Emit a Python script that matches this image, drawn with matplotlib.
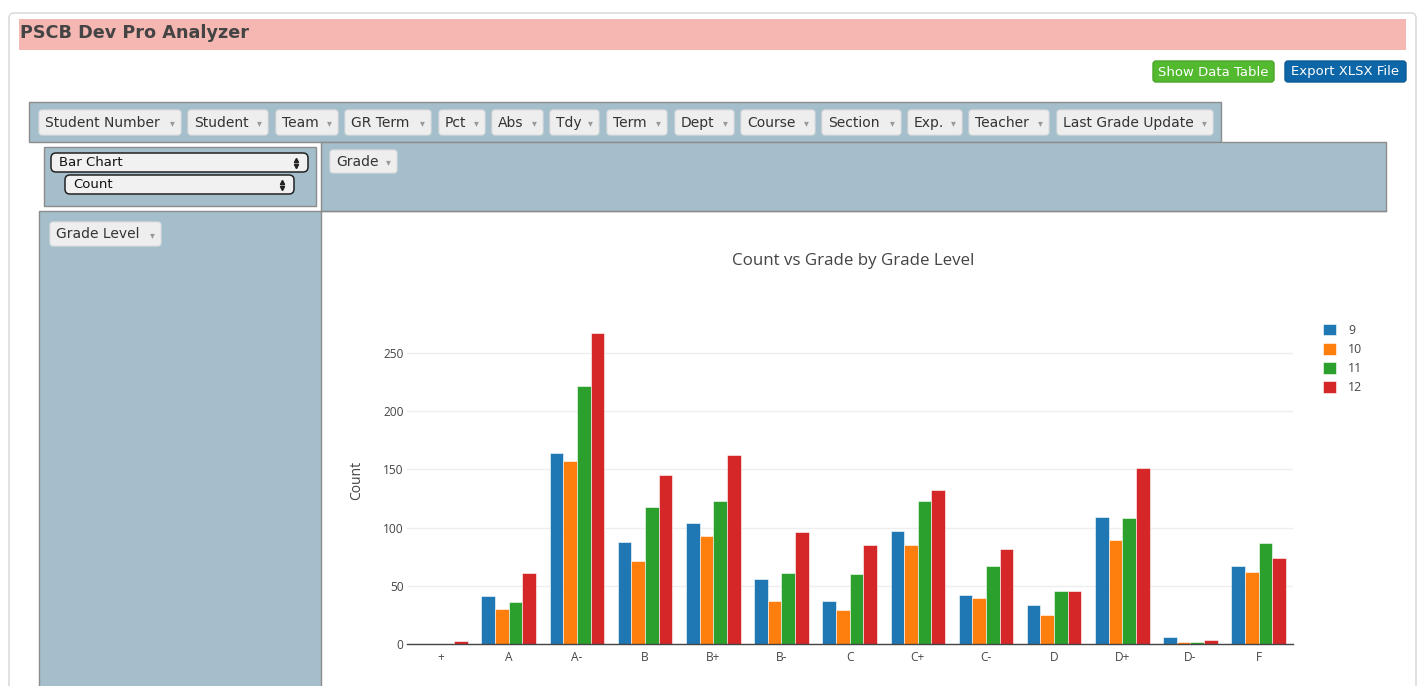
import numpy as np
import matplotlib.pyplot as plt
from matplotlib.patches import FancyBboxPatch, Rectangle

# data
grades = ['+', 'A', 'A-', 'B', 'B+', 'B-', 'C', 'C+', 'C-', 'D', 'D+', 'D-', 'F']
levels = ['9', '10', '11', '12']
count_9 = [0, 41, 164, 88, 104, 56, 37, 97, 42, 34, 109, 6, 67]
count_10 = [0, 30, 157, 71, 93, 37, 29, 85, 40, 25, 89, 2, 62]
count_11 = [0, 36, 221, 118, 123, 61, 60, 123, 67, 46, 108, 2, 87]
count_12 = [3, 61, 267, 145, 162, 96, 85, 132, 82, 46, 151, 4, 74]
series = [count_9, count_10, count_11, count_12]
colors = ['#1f77b4', '#ff7f0e', '#2ca02c', '#d62728']

# UI labels
field_buttons = ['Student Number', 'Student', 'Team', 'GR Term', 'Pct', 'Abs', 'Tdy',
                 'Term', 'Dept', 'Course', 'Section', 'Exp.', 'Teacher', 'Last Grade Update']
field_x = [(39, 181), (188, 268), (276, 338), (345, 431), (439, 485), (492, 543), (550, 599),
           (607, 667), (675, 734), (741, 815), (822, 901), (908, 962), (969, 1049), (1057, 1213)]

W, H = 1424, 686
fig = plt.figure(figsize=(W / 100, H / 100), dpi=100)
fig.patch.set_facecolor('white')

# full-figure axes in pixel coords for the page chrome
ui = fig.add_axes([0, 0, 1, 1])
ui.set_xlim(0, W)
ui.set_ylim(H, 0)
ui.axis('off')

BLUEGRAY = '#a4bfcb'
BORDER = '#8c8c8c'
UIFONT = ['DejaVu Sans']


def rbox(x0, y0, x1, y1, fc, ec='none', lw=1, r=3, z=1):
    ui.add_patch(FancyBboxPatch((x0, y0), x1 - x0, y1 - y0,
                                boxstyle=f'round,pad=0,rounding_size={r}',
                                fc=fc, ec=ec, lw=lw, zorder=z))


def rect(x0, y0, x1, y1, fc, ec='none', lw=1, z=1):
    ui.add_patch(Rectangle((x0, y0), x1 - x0, y1 - y0, fc=fc, ec=ec, lw=lw, zorder=z))


def dropdown(x0, x1, y0, y1, label):
    rbox(x0, y0, x1, y1, '#eeeeee', ec='#dddddd', lw=0.8, r=3, z=3)
    ui.text(x0 + 6, (y0 + y1) / 2 + 0.5, label, fontsize=10, color='#333333',
            va='center', ha='left', family=UIFONT, zorder=4)
    ui.text(x1 - 9, (y0 + y1) / 2 + 1, '\u25be', fontsize=7, color='#999999',
            va='center', ha='center', family=UIFONT, zorder=4)


def select(x0, x1, y0, y1, label):
    rbox(x0, y0, x1, y1, '#f1f1f1', ec='#222222', lw=1.1, r=5, z=3)
    ui.text(x0 + 8, (y0 + y1) / 2 + 0.5, label, fontsize=9.5, color='#111111',
            va='center', ha='left', family=UIFONT, zorder=4)
    ui.plot([x1 - 12], [(y0 + y1) / 2 - 3], marker='^', ms=3, color='#222222', zorder=4)
    ui.plot([x1 - 12], [(y0 + y1) / 2 + 3], marker='v', ms=3, color='#222222', zorder=4)


# outer panel
rbox(9, 13, 1416, 720, 'white', ec='#dcdcdc', lw=1.2, r=5, z=0)

# header bar
rect(19, 19, 1406, 50, '#f5b7b2')
ui.text(20, 33, 'PSCB Dev Pro Analyzer', fontsize=12.7, fontweight='bold',
        color='#444444', va='center', ha='left', family=UIFONT)

# action buttons
rbox(1153, 61, 1274, 82, '#53ba2f', ec='#4aa52a', r=3)
ui.text(1213.5, 72, 'Show Data Table', fontsize=9.5, color='white',
        va='center', ha='center', family=UIFONT)
rbox(1285, 61, 1406, 82, '#0d66a8', ec='#0b5a94', r=3)
ui.text(1345.5, 72, 'Export XLSX File', fontsize=9.5, color='white',
        va='center', ha='center', family=UIFONT)

# field toolbar
rect(29, 102, 1221, 142, BLUEGRAY, ec=BORDER, lw=1)
for label, (x0, x1) in zip(field_buttons, field_x):
    dropdown(x0, x1, 110, 135, label)

# renderer cell
rect(44, 147, 316, 206, BLUEGRAY, ec=BORDER, lw=1)
select(51, 308, 153, 172, 'Bar Chart')
select(65, 294, 175, 194, 'Count')

# column header area
rect(321, 142, 1386, 211, BLUEGRAY, ec=BORDER, lw=1)
dropdown(330, 397, 150, 173, 'Grade')

# row header area
rect(39, 211, 321, 700, BLUEGRAY, ec=BORDER, lw=1)
dropdown(50, 161, 222, 246, 'Grade Level')
ui.plot([321, 1386], [211, 211], color=BORDER, lw=1)

# the chart itself
px_l, px_r, px_t, px_b = 406.5, 1292.7, 316.5, 644.3
ax = fig.add_axes([px_l / W, 1 - px_b / H, (px_r - px_l) / W, (px_b - px_t) / H])
ax.set_facecolor('white')

x = np.arange(len(grades))
bw = 0.2
for i, (vals, col, lab) in enumerate(zip(series, colors, levels)):
    ax.bar(x + (i - 1.5) * bw, vals, width=bw, color=col, label=lab,
           edgecolor='white', linewidth=0.4, zorder=2)

ax.set_xlim(-0.5, len(grades) - 0.5)
ax.set_ylim(0, 281)
ax.set_yticks([0, 50, 100, 150, 200, 250])
ax.set_xticks(x)
ax.set_xticklabels(grades)
ax.yaxis.grid(True, color='#eeeeee', lw=1, zorder=0)
ax.set_axisbelow(True)
for s in ['top', 'right', 'left']:
    ax.spines[s].set_visible(False)
ax.spines['bottom'].set_color('#444444')
ax.spines['bottom'].set_linewidth(1)
ax.tick_params(length=0, labelsize=8.6, labelcolor='#444444', pad=2)
ax.tick_params(axis='x', pad=5)
for t in ax.get_xticklabels() + ax.get_yticklabels():
    t.set_family('Open Sans')
ax.set_ylabel('Count', fontsize=10, color='#444444', family='Open Sans', labelpad=14)

fig.text(853 / W, 1 - 261 / H, 'Count vs Grade by Grade Level', fontsize=12.2,
         color='#444444', family='Open Sans', ha='center', va='center')

leg = ax.legend(loc='upper left', bbox_to_anchor=(1323 / W, 1 - 324 / H),
                bbox_transform=fig.transFigure, frameon=False,
                prop={'family': 'Open Sans', 'size': 8.8},
                handlelength=1.05, handleheight=1.05, labelspacing=0.5,
                handletextpad=1.0, borderaxespad=0, borderpad=0)
for t in leg.get_texts():
    t.set_color('#444444')

plt.savefig('out.png', dpi=100)
